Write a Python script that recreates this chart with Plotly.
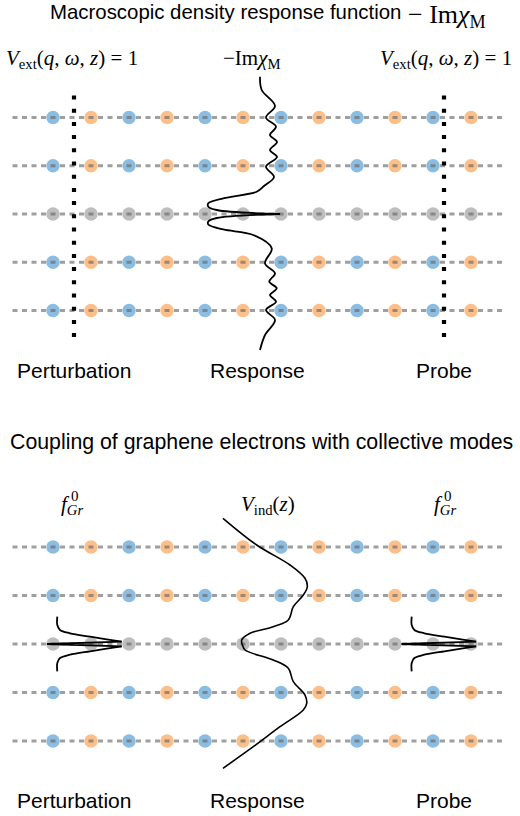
import plotly.graph_objects as go

# ---------------- data ----------------
site_index = [0, 1, 2, 3, 4, 5, 6, 7, 8, 9, 10, 11]
layer_z = [2, 1, 0, -1, -2]
layer_kind = ["substrate", "substrate", "graphene", "substrate", "substrate"]
substrate_species = ["A", "B", "A", "B", "A", "B", "A", "B", "A", "B", "A", "B"]
graphene_species = ["C", "C", "C", "C", "C", "C", "C", "C", "C", "C", "C", "C"]

# -Im chi_M(z) (arbitrary units)
chi_z = [2.846, 2.570, 2.238, 2.000, 1.809, 1.637, 1.492, 1.326, 1.181, 0.980,
         0.767, 0.580, 0.462, 0.325, 0.222, 0.151, 0.083, 0.000,
         -0.083, -0.155, -0.218, -0.321, -0.435, -0.711, -1.022, -1.229,
         -1.403, -1.540, -1.679, -1.818, -1.990, -2.197, -2.508, -2.819]
chi_val = [-1.10, -0.93, 0.40, -0.50, 0.50, -0.10, 0.60, -0.10, 0.60, -0.50,
           0.30, -0.70, -1.43, -4.77, -6.27, -6.27, -5.43, 0.90,
           -5.43, -6.27, -6.27, -4.77, -1.77, 0.07, -0.60, 0.40,
           -0.17, 0.57, -0.10, 0.50, -0.50, 0.40, -0.60, -1.10]

# V_ind(z) (arbitrary units)
vind_z = [2.592, 2.041, 1.629, 1.355, 1.181, 1.010, 0.769, 0.495, 0.357, 0.221, 0.082,
          -0.035, -0.124, -0.330, -0.501, -0.777, -1.052, -1.223, -1.361, -1.705, -2.118, -2.563]
vind_val = [0.0, 3.37, 6.70, 8.20, 8.43, 8.03, 7.03, 6.53, 5.03, 2.70, 1.87,
            1.97, 2.20, 5.03, 6.53, 7.03, 8.20, 8.37, 8.03, 5.70, 3.03, 0.0]

# f^0_Gr(z) (arbitrary units)
f0_z = [0.563, 0.392, 0.289, 0.221, 0.151, 0.097, 0.047, 0.0,
        -0.047, -0.097, -0.151, -0.221, -0.289, -0.392, -0.563]
f0_val = [0.0, 0.0, 0.27, 1.27, 3.27, 4.94, 6.44, -1.03,
          6.44, 4.94, 3.27, 1.27, 0.27, 0.0, 0.0]

top_title = "Macroscopic density response function"
top_title_math = "− Im<i>χ</i><sub>M</sub>"
bottom_title = "Coupling of graphene electrons with collective modes"
column_labels = ["Perturbation", "Response", "Probe"]
vext_label = "<i>V</i><sub>ext</sub>(<i>q</i>, <i>ω</i>, <i>z</i>) = 1"
chi_label = "−Im<i>χ</i><sub>M</sub>"
vind_label = "<i>V</i><sub>ind</sub>(<i>z</i>)"
f0_label = "<i>f</i><sub><i>Gr</i></sub>"
f0_sup = "0"

# ---------------- layout / style ----------------
W, H = 520, 816
PX_PER_SITE = 38.0
SITE0_PX = 53.0
X_RANGE = [-SITE0_PX / PX_PER_SITE, (W - SITE0_PX) / PX_PER_SITE]
CURVE_SCALE = 10.0 / PX_PER_SITE  # one curve unit = 10 px


def px_to_x(px):
    return (px - SITE0_PX) / PX_PER_SITE


SPECIES_COLOR = {"A": "#8cbde0", "B": "#fcbf89", "C": "#bebebe"}
DASH_COLOR = "rgba(100,100,100,0.62)"
SANS = "Liberation Sans, Arial, sans-serif"
SERIF = "Liberation Serif, Times New Roman, serif"

PANELS = {
    "top": dict(xa="x", ya="y", z0_px=214.0, dz_px=48.25, dom_px=(40.0, 390.0)),
    "bottom": dict(xa="x2", ya="y2", z0_px=644.0, dz_px=48.5, dom_px=(420.0, 816.0)),
}

LINE_X = [px_to_x(12.5), px_to_x(502.0)]

fig = go.Figure()


def add_lattice(p):
    xs = {"A": [], "B": [], "C": []}
    ys = {"A": [], "B": [], "C": []}
    for z, kind in zip(layer_z, layer_kind):
        species = graphene_species if kind == "graphene" else substrate_species
        for i, s in zip(site_index, species):
            xs[s].append(i)
            ys[s].append(z)
    for s in xs:
        fig.add_trace(go.Scatter(
            x=xs[s], y=ys[s], mode="markers", xaxis=p["xa"], yaxis=p["ya"],
            marker=dict(size=13.5, color=SPECIES_COLOR[s], line=dict(width=0)),
            hoverinfo="skip"))
    for z in layer_z:
        fig.add_trace(go.Scatter(
            x=LINE_X, y=[z, z], mode="lines", xaxis=p["xa"], yaxis=p["ya"],
            line=dict(color=DASH_COLOR, width=2.8, dash="5px,4.5px"),
            hoverinfo="skip"))


def add_curve(p, base_px, vals, zs, pieces, width=1.8):
    xs = [px_to_x(base_px) + v * CURVE_SCALE for v in vals]
    for (a, b, shape) in pieces:
        line = dict(color="black", width=width, shape=shape)
        if shape == "spline":
            line["smoothing"] = 1.0
        fig.add_trace(go.Scatter(
            x=xs[a:b + 1], y=zs[a:b + 1], mode="lines", xaxis=p["xa"], yaxis=p["ya"],
            line=line, hoverinfo="skip"))


top = PANELS["top"]
bot = PANELS["bottom"]

add_lattice(top)
add_lattice(bot)

# probe / perturbation dotted lines (top panel)
for xpx in (74.0, 444.0):
    z_top = (top["z0_px"] - 95.5) / top["dz_px"]
    z_bot = (top["z0_px"] - 337.1) / top["dz_px"]
    fig.add_trace(go.Scatter(
        x=[px_to_x(xpx), px_to_x(xpx)], y=[z_top, z_bot], mode="lines",
        xaxis="x", yaxis="y", line=dict(color="black", width=4.2, dash="4px,9.2px"),
        hoverinfo="skip"))

# curves
ci = chi_z.index(0.0)
add_curve(top, 271.0, chi_val, chi_z, [(0, ci, "spline"), (ci, len(chi_z) - 1, "spline")])
add_curve(bot, 223.0, vind_val, vind_z, [(0, len(vind_z) - 1, "spline")], width=1.6)
fi = f0_z.index(0.0)
for base in (57.3, 411.7):
    add_curve(bot, base, f0_val, f0_z,
              [(0, fi - 1, "spline"), (fi - 1, fi + 1, "linear"), (fi + 1, len(f0_z) - 1, "spline")])


def yr(p):
    d0, d1 = p["dom_px"]
    return [(p["z0_px"] - d1) / p["dz_px"], (p["z0_px"] - d0) / p["dz_px"]]


def dom(p):
    d0, d1 = p["dom_px"]
    return [1 - d1 / H, 1 - d0 / H]


ax = dict(visible=False, showgrid=False, zeroline=False, fixedrange=True)
fig.update_layout(
    width=W, height=H, autosize=False, margin=dict(l=0, r=0, t=0, b=0),
    paper_bgcolor="white", plot_bgcolor="white", showlegend=False,
    xaxis=dict(ax, range=X_RANGE, domain=[0, 1], anchor="y"),
    yaxis=dict(ax, range=yr(top), domain=dom(top), anchor="x"),
    xaxis2=dict(ax, range=X_RANGE, domain=[0, 1], anchor="y2"),
    yaxis2=dict(ax, range=yr(bot), domain=dom(bot), anchor="x2"),
)


def note(text, xpx, ypx, size, family, anchor="center"):
    fig.add_annotation(text=text, x=xpx / W, y=1 - ypx / H, xref="paper", yref="paper",
                       xanchor=anchor, yanchor="middle", showarrow=False,
                       font=dict(size=size, family=family, color="black"))


note(top_title, 48, 12.5, 20.4, SANS, anchor="left")
note(top_title_math, 406, 16, 26, SERIF, anchor="left")
note(bottom_title, 261.5, 442, 21.3, SANS)
for lab, xpx in zip(column_labels, (73.5, 257.5, 443.5)):
    note(lab, xpx, 371, 21, SANS)
    note(lab, xpx, 800, 21, SANS)
note(vext_label, 72, 59, 21, SERIF)
note(vext_label, 446, 59, 21, SERIF)
note(chi_label, 251, 59, 21, SERIF)
note(vind_label, 268, 505, 21, SERIF)
for xf, xs0 in ((72, 74.5), (445, 448)):
    note(f0_label, xf, 505, 21, SERIF)
    note(f0_sup, xs0, 496, 15, SERIF)

fig.write_html("out.html", config={"displayModeBar": False},
               post_script="document.body.style.margin='0';")
